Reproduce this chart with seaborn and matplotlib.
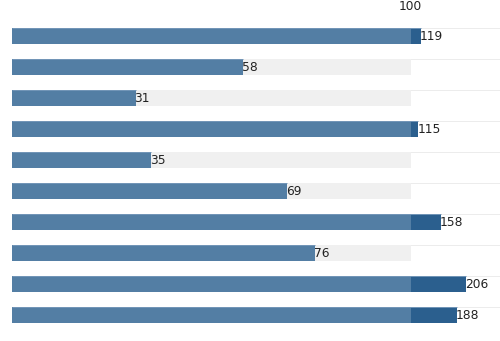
import numpy as np
import pandas as pd
import matplotlib
matplotlib.use("Agg")
import matplotlib.pyplot as plt
import matplotlib.transforms as mtransforms
import seaborn as sns

rows = ["r1", "r2", "r3", "r4", "r5", "r6", "r7", "r8", "r9", "r10"]
values = [119, 58, 31, 115, 35, 69, 158, 76, 206, 188]
target = 100
tick_labels = ["100"]

K = 0.132  # compression of the part above the target

def fwd(x):
    x = np.asarray(x, dtype=float)
    return np.where(x <= target, x, target + (x - target) * K)

def inv(y):
    y = np.asarray(y, dtype=float)
    return np.where(y <= target, y, target + (y - target) / K)

df = pd.DataFrame({"row": rows, "value": values})
df["capped"] = df["value"].clip(upper=target)
df["target"] = target

sns.set_theme(style="white")
plt.rcParams["font.family"] = ["DejaVu Sans"]

fig = plt.figure(figsize=(5.0, 3.41), dpi=100)
W, H = 500, 341
ax = fig.add_axes([12 / W, (H - 330.5) / H, 488 / W, 310 / H])
ax.set_xscale("function", functions=(fwd, inv))

bh = 0.52
common = dict(orient="h", width=bh, ax=ax, saturation=1, linewidth=0,
              edgecolor="none")
sns.barplot(data=df, x="target", y="row", color="#f0f0f0", zorder=1, **common)
sns.barplot(data=df, x="value", y="row", color="#2b5f8e", zorder=2, **common)
sns.barplot(data=df, x="capped", y="row", color="#537ea4", zorder=3, **common)

ax.set_xlim(0, 270)
ax.set_ylim(len(rows) - 0.5, -0.5)

offset = mtransforms.offset_copy(ax.transData, fig=fig, x=-1, y=0, units="dots")
for i, v in enumerate(values):
    ax.hlines(i - bh / 2, 0, 270, color="#ececec", lw=0.7, zorder=0.5)
    ax.hlines(i - bh / 2 + 0.015, 0, v, color="#7396b8", lw=0.7, zorder=4)
    ax.text(v, i + 0.03, f"{v}", ha="left", va="center", fontsize=8.8,
            color="#222222", zorder=5, transform=offset)

ax.xaxis.tick_top()
ax.set_xticks([target])
ax.set_xticklabels(tick_labels, fontsize=8.8, color="#222222")
ax.tick_params(axis="x", length=0, pad=5.5)
ax.set_yticks([])
ax.set_xlabel("")
ax.set_ylabel("")
for s in ax.spines.values():
    s.set_visible(False)

fig.savefig("out.png", dpi=100)
